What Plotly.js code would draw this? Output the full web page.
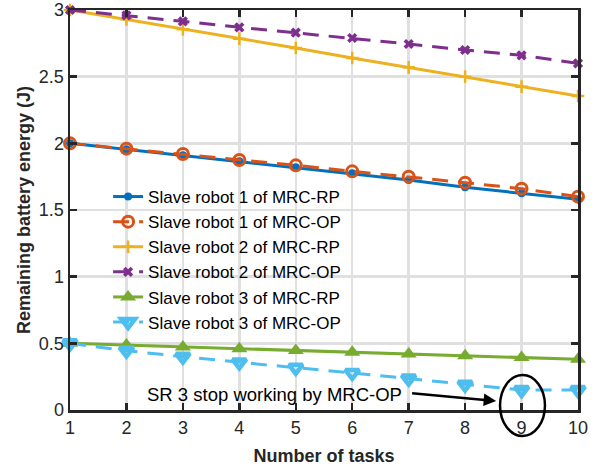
<!DOCTYPE html>
<html>
<head>
<meta charset="utf-8">
<script src="https://cdn.plot.ly/plotly-3.0.1.min.js"></script>
<style>html,body{margin:0;padding:0;background:#fff;}#chart{width:606px;height:471px;}</style>
</head>
<body>
<div id="chart"></div>
<script>
const tasks = [1,2,3,4,5,6,7,8,9,10];
const sr1RP = [2.00,1.955,1.91,1.865,1.82,1.775,1.725,1.67,1.625,1.58];
const sr1OP = [2.00,1.96,1.92,1.875,1.835,1.79,1.75,1.705,1.66,1.60];
const sr2RP = [3.00,2.93,2.855,2.785,2.715,2.64,2.57,2.50,2.425,2.355];
const sr2OP = [3.00,2.96,2.915,2.87,2.83,2.79,2.745,2.70,2.66,2.60];
const sr3RP = [0.50,0.487,0.473,0.46,0.447,0.433,0.42,0.407,0.393,0.38];
const sr3OP = [0.50,0.445,0.40,0.357,0.317,0.278,0.236,0.19,0.15,0.15];
const names = ['Slave robot 1 of MRC-RP','Slave robot 1 of MRC-OP','Slave robot 2 of MRC-RP','Slave robot 2 of MRC-OP','Slave robot 3 of MRC-RP','Slave robot 3 of MRC-OP'];
const xTicks = [1,2,3,4,5,6,7,8,9,10];
const yTicks = [0,0.5,1,1.5,2,2.5,3];
const yTickText = ['0','0.5','1','1.5','2','2.5','3'];
const noteText = 'SR 3 stop working by MRC-OP';

const dashPat = '16px,10px';
const traces = [
  {x:tasks,y:sr1RP,name:names[0],mode:'lines+markers',line:{color:'#0072BD',width:3},marker:{symbol:'circle',size:8,color:'#0072BD'}},
  {x:tasks,y:sr1OP,name:names[1],mode:'lines+markers',line:{color:'#D95319',width:3,dash:dashPat},marker:{symbol:'circle-open',size:11,color:'#D95319',line:{width:3,color:'#D95319'}}},
  {x:tasks,y:sr2RP,name:names[2],mode:'lines+markers',line:{color:'#EDB120',width:3},marker:{symbol:'cross-thin-open',size:9,color:'#EDB120',line:{width:2.5,color:'#EDB120'}}},
  {x:tasks,y:sr2OP,name:names[3],mode:'lines+markers',line:{color:'#7E2F8E',width:3,dash:dashPat},marker:{symbol:'x',size:9,color:'#7E2F8E'}},
  {x:tasks,y:sr3RP,name:names[4],mode:'lines+markers',line:{color:'#77AC30',width:3},marker:{symbol:'triangle-up',size:14,color:'#77AC30'}},
  {x:tasks,y:sr3OP,name:names[5],mode:'lines+markers',line:{color:'#4DBEEE',width:3,dash:dashPat},marker:{symbol:'triangle-down-open',size:12,color:'#4DBEEE',line:{width:4.5,color:'#4DBEEE'}}}
];
traces.forEach(t=>{t.cliponaxis=false;});

const axisCommon = {
  showline:true, linecolor:'#262626', linewidth:2.5, mirror:'ticks',
  ticks:'inside', ticklen:7, tickwidth:2.5, tickcolor:'#262626',
  showgrid:true, gridcolor:'#e0e0e0', gridwidth:2.5, zeroline:false,
  tickfont:{family:'Liberation Sans, Arial, sans-serif', size:18, color:'#262626'}
};

const layout = {
  width:606, height:471,
  margin:{l:70, r:28, t:10, b:61},
  paper_bgcolor:'#ffffff', plot_bgcolor:'#ffffff',
  showlegend:true,
  font:{family:'Liberation Sans, Arial, sans-serif', size:18, color:'#000'},
  xaxis:Object.assign({}, axisCommon, {range:[1,10], tickvals:xTicks, ticktext:xTicks.map(String),
    title:{text:'<b>Number of tasks</b>', font:{size:18, color:'#262626'}, standoff:13}}),
  yaxis:Object.assign({}, axisCommon, {range:[0,3], tickvals:yTicks, ticktext:yTickText,
    title:{text:'<b>Remaining battery energy (J)</b>', font:{size:18, color:'#262626'}, standoff:4}}),
  legend:{x:0.075, y:0.5775, xanchor:'left', yanchor:'top', bgcolor:'rgba(0,0,0,0)', borderwidth:0,
    font:{size:17, color:'#000'}, tracegroupgap:0},
  shapes:[
    {type:'circle', xref:'paper', yref:'paper', x0:0.8465, x1:0.935, y0:-0.065, y1:0.0875,
     line:{color:'#000', width:2.5}, fillcolor:'rgba(0,0,0,0)', layer:'above'}
  ],
  annotations:[
    {x:4.62, y:0.12, xref:'x', yref:'y', text:noteText, showarrow:false,
     font:{size:18.5, color:'#000'}, bgcolor:'rgba(0,0,0,0)'},
    {x:8.55, y:0.068, ax:6.99, ay:0.128, xref:'x', yref:'y', axref:'x', ayref:'y', text:' ',
     showarrow:true, arrowhead:2, arrowsize:1, arrowwidth:2.5, arrowcolor:'#000', standoff:0, startstandoff:0}
  ]
};

Plotly.newPlot('chart', traces, layout, {displayModeBar:false, staticPlot:true});
</script>
</body>
</html>
